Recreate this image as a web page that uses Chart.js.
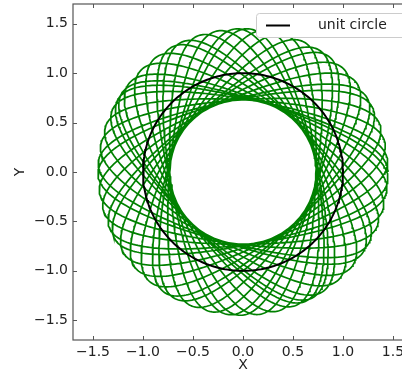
<!DOCTYPE html>
<html><head><meta charset="utf-8">
<script src="https://cdn.jsdelivr.net/npm/chart.js@4"></script>
<style>
html,body{margin:0;padding:0;overflow:hidden;background:#fff}
#wrap{position:relative;width:420px;height:376px}
</style></head>
<body><div id="wrap"><canvas id="c" width="420" height="376"></canvas></div>
<script>
// ---- values ----
const xTicks = [-1.5, -1.0, -0.5, 0.0, 0.5, 1.0, 1.5];
const yTicks = [-1.5, -1.0, -0.5, 0.0, 0.5, 1.0, 1.5];
const xRange = [-1.7, 1.7];
const yRange = [-1.7, 1.7];
const orbitRadii = [1.09, 0.36];      // mean radius and swing: rosette spans r = 0.73 .. 1.45
const epicycleRate = [-1.41];         // sets the lobe spacing of the outer scallops
const orbitTurns = [23];              // loops of the rosette
const circleRadius = [1.0];
const legendLabels = ['unit circle'];
const axisTitles = ['X', 'Y'];

// ---- build point lists ----
function orbitPoints() {
  const pts = [];
  const R1 = orbitRadii[0], R2 = orbitRadii[1], k = epicycleRate[0];
  const perTurn = 260;
  const total = orbitTurns[0] * perTurn;
  for (let i = 0; i <= total; i++) {
    const t = (i / perTurn) * 2 * Math.PI;
    pts.push({ x: R1 * Math.cos(t) + R2 * Math.cos(k * t), y: R1 * Math.sin(t) + R2 * Math.sin(k * t) });
  }
  return pts;
}
function circlePoints() {
  const pts = [];
  const n = 240, r = circleRadius[0];
  for (let i = 0; i <= n; i++) {
    const a = (i / n) * 2 * Math.PI;
    pts.push({ x: r * Math.cos(a), y: r * Math.sin(a) });
  }
  return pts;
}

const fmt = v => (v < 0 ? '\u2212' : '') + Math.abs(v).toFixed(1);
const FONT = 'DejaVu Sans';

const framePlugin = {
  id: 'frame',
  afterDraw(chart) {
    const { ctx, chartArea: a, scales } = chart;
    ctx.save();
    ctx.strokeStyle = '#555';
    ctx.lineWidth = 1.2;
    ctx.strokeRect(a.left, a.top, a.right - a.left, a.bottom - a.top);
    ctx.beginPath();
    const L = 4;
    xTicks.forEach(v => {
      const px = Math.round(scales.x.getPixelForValue(v)) + 0.5;
      ctx.moveTo(px, a.bottom); ctx.lineTo(px, a.bottom - L);
      ctx.moveTo(px, a.top); ctx.lineTo(px, a.top + L);
    });
    yTicks.forEach(v => {
      const py = Math.round(scales.y.getPixelForValue(v)) + 0.5;
      ctx.moveTo(a.left, py); ctx.lineTo(a.left + L, py);
      ctx.moveTo(a.right, py); ctx.lineTo(a.right - L, py);
    });
    ctx.lineWidth = 1;
    ctx.stroke();
    // legend
    const bx = 256, by = 13, bw = 170, bh = 24;
    ctx.fillStyle = '#ffffff';
    ctx.strokeStyle = '#cccccc';
    ctx.lineWidth = 1;
    ctx.beginPath();
    ctx.roundRect(bx + 0.5, by + 0.5, bw, bh, 3);
    ctx.fill(); ctx.stroke();
    ctx.strokeStyle = '#000';
    ctx.lineWidth = 2;
    ctx.beginPath();
    ctx.moveTo(266, 25.5); ctx.lineTo(290, 25.5);
    ctx.stroke();
    ctx.fillStyle = '#222';
    ctx.font = '14px "' + FONT + '"';
    ctx.textBaseline = 'middle';
    ctx.textAlign = 'left';
    ctx.fillText(legendLabels[0], 318, 25.5);
    ctx.restore();
  }
};

new Chart(document.getElementById('c'), {
  type: 'scatter',
  data: {
    datasets: [
      { label: legendLabels[0], data: circlePoints(), showLine: true, borderColor: '#000000',
        borderWidth: 2, pointRadius: 0, pointHoverRadius: 0, fill: false, order: 0 },
      { label: 'orbit', data: orbitPoints(), showLine: true, borderColor: '#008000',
        borderWidth: 1.7, pointRadius: 0, pointHoverRadius: 0, fill: false, order: 1 }
    ]
  },
  options: {
    responsive: false,
    animation: false,
    devicePixelRatio: 1,
    events: [],
    layout: { padding: { left: 0, top: 4, right: 7, bottom: 0 } },
    plugins: { legend: { display: false }, tooltip: { enabled: false } },
    scales: {
      x: {
        type: 'linear', min: xRange[0], max: xRange[1],
        afterBuildTicks: s => { s.ticks = xTicks.map(v => ({ value: v })); },
        afterFit: s => { s.height = 36; s.paddingLeft = 0; s.paddingRight = 0; },
        grid: { display: false, drawTicks: false },
        border: { display: false },
        ticks: { callback: v => fmt(v), color: '#222', font: { family: FONT, size: 14 }, padding: 4, maxRotation: 0, autoSkip: false },
        title: { display: true, text: axisTitles[0], color: '#222', font: { family: FONT, size: 14 }, padding: { top: 0, bottom: 2 } }
      },
      y: {
        type: 'linear', min: yRange[0], max: yRange[1],
        afterBuildTicks: s => { s.ticks = yTicks.map(v => ({ value: v })); },
        afterFit: s => { s.width = 73; s.paddingTop = 0; s.paddingBottom = 0; },
        grid: { display: false, drawTicks: false },
        border: { display: false },
        ticks: { callback: v => fmt(v), color: '#222', font: { family: FONT, size: 14 }, padding: 5, autoSkip: false },
        title: { display: true, text: axisTitles[1], color: '#222', font: { family: FONT, size: 14 }, padding: { top: 12, bottom: 0 } }
      }
    }
  },
  plugins: [framePlugin]
});
</script>
</body></html>
